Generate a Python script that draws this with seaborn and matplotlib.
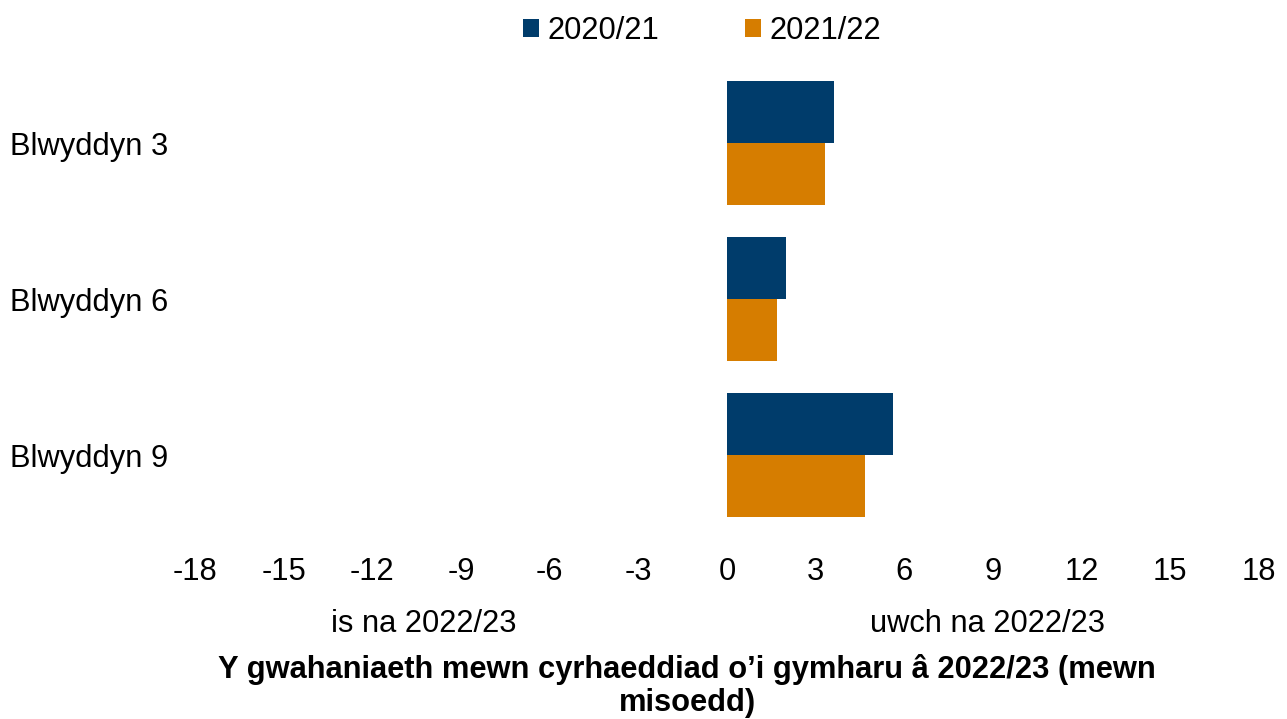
import pandas as pd
import matplotlib.pyplot as plt
import seaborn as sns

# data (months difference vs 2022/23)
groups = ['Blwyddyn 3', 'Blwyddyn 6', 'Blwyddyn 9']
years = ['2020/21', '2021/22']
vals_2020 = [3.61, 1.98, 5.60]
vals_2021 = [3.33, 1.69, 4.66]
xticks = [-18, -15, -12, -9, -6, -3, 0, 3, 6, 9, 12, 15, 18]
colors = ['#003C6B', '#D67D00']

df = pd.DataFrame({
    'group': groups * 2,
    'year': [years[0]] * 3 + [years[1]] * 3,
    'value': vals_2020 + vals_2021,
})

sns.set_theme(style='white')
plt.rcParams['font.family'] = ['Liberation Sans', 'DejaVu Sans']
plt.rcParams['text.color'] = 'black'
plt.rcParams['xtick.color'] = 'black'
plt.rcParams['ytick.color'] = 'black'

fs = 22.2

fig = plt.figure(figsize=(12.87, 7.19), dpi=100)
ax = fig.add_axes([195 / 1287, 1 - 533 / 719, 1064 / 1287, 468 / 719])

sns.barplot(data=df, y='group', x='value', hue='year', orient='h',
            palette=colors, width=0.8, ax=ax, saturation=1, linewidth=0)

ax.set_xlim(-18, 18)
ax.set_xticks(xticks)
ax.set_xticklabels([str(t) for t in xticks])
ax.tick_params(axis='x', labelsize=fs, pad=17, length=0, labelcolor='black')
ax.tick_params(axis='y', labelsize=fs, pad=19.5, length=0, labelcolor='black')
ax.set_xlabel('')
ax.set_ylabel('')
for s in ax.spines.values():
    s.set_visible(False)

# direction labels and axis title
fig.text(424 / 1287, 1 - 624 / 719, 'is na 2022/23', ha='center', va='center', fontsize=fs)
fig.text(988 / 1287, 1 - 624 / 719, 'uwch na 2022/23', ha='center', va='center', fontsize=fs)
fig.text(687 / 1287, 1 - 686 / 719,
         'Y gwahaniaeth mewn cyrhaeddiad o\u2019i gymharu \u00e2 2022/23 (mewn\nmisoedd)',
         ha='center', va='center', fontsize=fs, fontweight='bold', linespacing=1.12)

ax.legend(loc='center', bbox_to_anchor=(702 / 1287, 1 - 31 / 719),
          bbox_transform=fig.transFigure, ncol=2, frameon=False,
          fontsize=fs, handlelength=0.52, handleheight=0.52,
          handletextpad=0.27, columnspacing=2.8, borderpad=0)

fig.savefig('out.png', dpi=100)
